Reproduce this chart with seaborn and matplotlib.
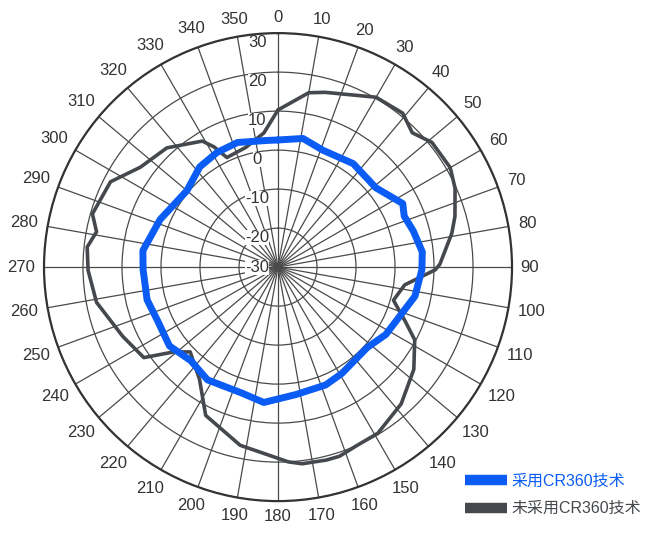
import numpy as np
import pandas as pd
import seaborn as sns
import matplotlib.pyplot as plt
from matplotlib.lines import Line2D

# angle (deg, clockwise from top) and level
angles_cr360 = [0, 11, 21, 36, 51, 63, 68, 75, 84, 91, 102, 122, 132, 149, 158, 172,
                186, 196, 212, 223, 234, 246, 256, 269, 277, 292, 310, 322, 332, 342, 355]
gain_cr360 = [2.6, 3.6, 2.1, 2.8, 2.3, 5.9, 4.9, 5.9, 7.2, 6.9, 5.9, 2.6, 0.8, 1.8, 2.6, 3.0,
              4.9, 3.6, 4.1, 2.8, 4.4, 3.8, 4.6, 4.6, 4.9, 2.6, 0.5, 2.6, 3.3, 3.6, 2.6]

angles_plain = [0, 10, 15, 30, 39, 45, 51, 60, 66, 74, 79, 89, 91, 98, 106, 113, 118, 127,
                138, 149, 156, 162, 166, 173, 177, 192, 206, 215, 226, 231, 236, 246, 259,
                269, 276, 281, 286, 297, 306, 317, 329, 332, 335, 345, 354]
gain_plain = [10.3, 15.4, 16.4, 20.3, 20.8, 18.7, 20.8, 21.0, 19.7, 17.2, 15.4, 11.5, 10.3,
              2.8, 0.8, 5.4, 9.7, 13.6, 17.2, 19.7, 20.0, 21.0, 21.0, 20.8, 20.0, 16.7, 12.3,
              5.1, 1.3, 4.6, 11.5, 13.6, 17.4, 18.7, 19.2, 17.4, 19.5, 18.2, 13.6, 11.8, 7.7,
              4.9, 1.0, 1.8, 4.6]

angle_ticks = list(range(0, 360, 10))
radial_ticks = [-30, -20, -10, 0, 10, 20, 30]
series_names = ["采用CR360技术", "未采用CR360技术"]
series_colors = ["#0a5cf5", "#45484c"]

sns.set_theme(style="white")
plt.rcParams['font.family'] = ['Liberation Sans', 'Noto Sans CJK SC']


def closed(angles, vals, name):
    a = list(angles) + [angles[0] + 360]
    v = list(vals) + [vals[0]]
    return pd.DataFrame({"theta": np.deg2rad(a), "r": v, "series": name})


df = pd.concat([closed(angles_plain, gain_plain, series_names[1]),
                closed(angles_cr360, gain_cr360, series_names[0])])

fig = plt.figure(figsize=(6.5, 5.4), dpi=100)
ax = fig.add_axes([0.0677, 0.072, 0.72, 0.8667], projection='polar')
ax.set_theta_zero_location('N')
ax.set_theta_direction(-1)

sns.lineplot(data=df[df.series == series_names[1]], x="theta", y="r", sort=False,
             color=series_colors[1], lw=2.6, ax=ax, legend=False, zorder=3)
sns.lineplot(data=df[df.series == series_names[0]], x="theta", y="r", sort=False,
             color=series_colors[0], lw=5, ax=ax, legend=False, zorder=4)

ax.set_ylim(-30, 30)
ax.set_yticks(radial_ticks)
ax.set_yticklabels([])
ax.set_xticks(np.deg2rad(angle_ticks))
ax.set_xticklabels([])
ax.grid(True, color="#4a4a4a", lw=0.9)
ax.spines['polar'].set_color("#333333")
ax.spines['polar'].set_linewidth(1.6)
ax.set_xlabel("")
ax.set_ylabel("")

# angle labels outside the rim, pushed out by half their extent
for a in angle_ticks:
    s = str(a)
    t = np.deg2rad(a)
    w = 9.0 * len(s)
    dist = 9 + abs(np.sin(t)) * w / 2 + abs(np.cos(t)) * 6.5
    ax.annotate(s, xy=(t, 30), xytext=(dist * np.sin(t) * 0.72, dist * np.cos(t) * 0.72),
                textcoords='offset points', ha='center', va='center', fontsize=12,
                color="#333333", annotation_clip=False)

for v in radial_ticks:
    r = v - 2.3 if v > -30 else v
    ax.annotate(str(v), xy=(0, r), xytext=(-15, 0), textcoords='offset points',
                ha='center', va='center', fontsize=12, color="#333333",
                bbox=dict(boxstyle='square,pad=0', fc='white', ec='none'),
                annotation_clip=False, zorder=2.5)

handles = [Line2D([], [], color=c, lw=7.5, solid_capstyle='butt') for c in series_colors]
leg = fig.legend(handles, series_names, loc='upper left', bbox_to_anchor=(0.694, 0.15),
                 frameon=False, fontsize=11.5, handlelength=2.6, handletextpad=0.25,
                 labelspacing=0.8)
for txt, c in zip(leg.get_texts(), series_colors):
    txt.set_color(c)

fig.savefig("out.png", dpi=100)
